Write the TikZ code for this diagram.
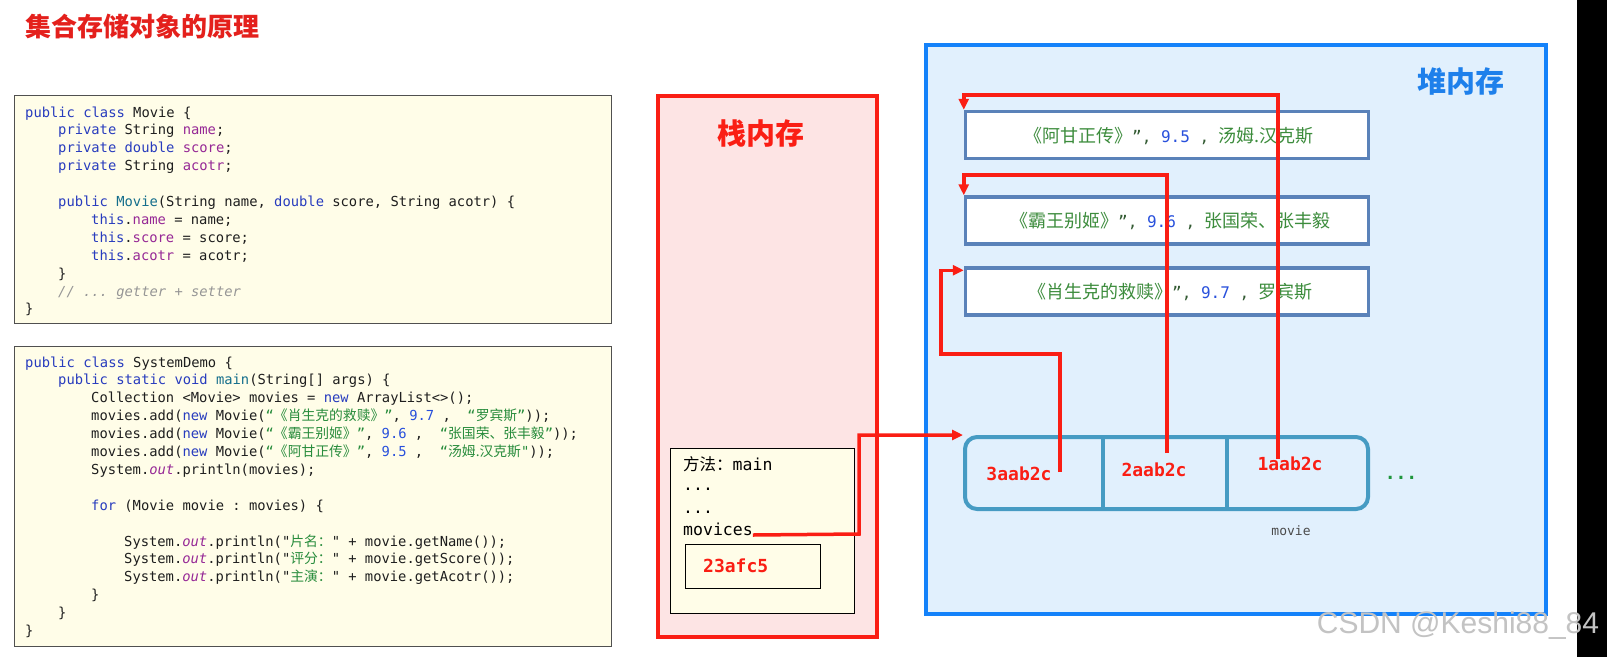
\documentclass[tikz,border=0pt]{standalone}
\usepackage{fontspec}
\setmainfont{Liberation Sans}
\setmonofont{DejaVu Sans Mono}
\newfontfamily\cjk{Noto Sans CJK SC}
\usetikzlibrary{arrows.meta}
\definecolor{kwblue}{RGB}{40,60,190}
\definecolor{fdpurple}{RGB}{150,40,150}
\definecolor{fnteal}{RGB}{20,110,140}
\definecolor{strgreen}{RGB}{40,140,60}
\definecolor{numblue}{RGB}{40,80,220}
\definecolor{cmgray}{RGB}{150,150,150}
\definecolor{codetxt}{RGB}{30,30,30}
\definecolor{codefill}{RGB}{255,253,232}
\definecolor{codeborder}{RGB}{80,80,80}
\definecolor{titlered}{RGB}{228,32,28}
\definecolor{arrred}{RGB}{250,30,20}
\definecolor{stackfill}{RGB}{253,228,228}
\definecolor{heapblue}{RGB}{20,130,250}
\definecolor{heapfill}{RGB}{225,240,253}
\definecolor{heaptext}{RGB}{30,128,235}
\definecolor{movborder}{RGB}{90,130,185}
\definecolor{movgreen}{RGB}{60,140,60}
\definecolor{movdark}{RGB}{50,90,50}
\definecolor{arrborder}{RGB}{70,155,195}
\definecolor{dotgreen}{RGB}{30,150,60}
\definecolor{wmgray}{RGB}{195,195,195}
\newcommand\ckw[1]{\textcolor{kwblue}{#1}}
\newcommand\cfd[1]{\textcolor{fdpurple}{#1}}
\newcommand\cfn[1]{\textcolor{fnteal}{#1}}
\newcommand\cst[1]{\textcolor{strgreen}{#1}}
\newcommand\cnm[1]{\textcolor{numblue}{#1}}
\newcommand\ccm[1]{\textcolor{cmgray}{\itshape #1}}
\newcommand\cit[1]{\textcolor{fdpurple}{\itshape #1}}
\newcommand\zh[1]{{\cjk #1}}
\newcommand\movline[3]{{\cjk #1}{\ttfamily\fontsize{16}{18}\selectfont\textcolor{movdark}{”,} \textcolor{numblue}{#2} \textcolor{movdark}{,} }{\cjk #3}}
\tikzset{
  cl/.style={anchor=base west, inner sep=0pt, text=codetxt, font=\fontsize{13.8}{16}\selectfont\ttfamily},
  codebox/.style={draw=codeborder, fill=codefill, line width=1.5pt, inner sep=0pt},
  redarr/.style={draw=arrred, line width=3.5pt, -{Triangle[length=11pt,width=10pt]}},
  movbox/.style={draw=movborder, fill=white, line width=3.5pt, minimum width=403pt, minimum height=47pt, inner sep=0pt},
  movtxt/.style={inner sep=0pt, text=movgreen, font=\fontsize{18}{20}\selectfont},
  addr/.style={inner sep=0pt, text=arrred, font=\fontsize{18}{20}\selectfont\ttfamily\bfseries},
  stk/.style={anchor=base west, inner sep=0pt, text=black, font=\fontsize{16.5}{18}\selectfont\ttfamily},
}
\begin{document}
\begin{tikzpicture}[x=1pt,y=-1pt]
\useasboundingbox (0,0) rectangle (1607,657);
\fill[white] (0,0) rectangle (1607,657);
\fill[black] (1577,0) rectangle (1607,657);

% title
\node[inner sep=0pt, text=titlered, font=\fontsize{26}{28}\selectfont\cjk\bfseries] (title) at (142,27) {集合存储对象的原理};

% code box 1
\node[codebox, minimum width=597pt, minimum height=228pt] (code1) at (313,209.5) {};
\node[cl] (a1) at (25,117) {\ckw{public class} Movie \{};
\node[cl] (a2) at (58,134.9) {\ckw{private} String \cfd{name};};
\node[cl] (a3) at (58,152.8) {\ckw{private double} \cfd{score};};
\node[cl] (a4) at (58,170.7) {\ckw{private} String \cfd{acotr};};
\node[cl] (a5) at (58,206.5) {\ckw{public} \cfn{Movie}(String name, \ckw{double} score, String acotr) \{};
\node[cl] (a6) at (91,224.4) {\ckw{this}.\cfd{name} = name;};
\node[cl] (a7) at (91,242.3) {\ckw{this}.\cfd{score} = score;};
\node[cl] (a8) at (91,260.2) {\ckw{this}.\cfd{acotr} = acotr;};
\node[cl] (a9) at (58,278.1) {\}};
\node[cl] (a10) at (58,296) {\ccm{// ... getter + setter}};
\node[cl] (a11) at (25,313.9) {\}};

% code box 2
\node[codebox, minimum width=597pt, minimum height=300pt] (code2) at (313,496.5) {};
\node[cl] (b1) at (25,367) {\ckw{public class} SystemDemo \{};
\node[cl] (b2) at (58,384.9) {\ckw{public static void} \cfn{main}(String[] args) \{};
\node[cl] (b3) at (91,402.8) {Collection <Movie> movies = \ckw{new} ArrayList<>();};
\node[cl] (b4) at (91,420.7) {movies.add(\ckw{new} Movie(\cst{“\zh{《肖生克的救赎》}”}, \cnm{9.7} , \ \cst{“\zh{罗宾斯}”}));};
\node[cl] (b5) at (91,438.6) {movies.add(\ckw{new} Movie(\cst{“\zh{《霸王别姬》}”}, \cnm{9.6} , \ \cst{“\zh{张国荣、张丰毅}”}));};
\node[cl] (b6) at (91,456.5) {movies.add(\ckw{new} Movie(\cst{“\zh{《阿甘正传》}”}, \cnm{9.5} , \ \cst{“\zh{汤姆.汉克斯}"}));};
\node[cl] (b7) at (91,474.4) {System.\cit{out}.println(movies);};
\node[cl] (b8) at (91,510.2) {\ckw{for} (Movie movie : movies) \{};
\node[cl] (b9) at (124,546) {System.\cit{out}.println("\cst{\zh{片名：}}" + movie.getName());};
\node[cl] (b10) at (124,563.9) {System.\cit{out}.println("\cst{\zh{评分：}}" + movie.getScore());};
\node[cl] (b11) at (124,581.8) {System.\cit{out}.println("\cst{\zh{主演：}}" + movie.getAcotr());};
\node[cl] (b12) at (91,599.7) {\}};
\node[cl] (b13) at (58,617.6) {\}};
\node[cl] (b14) at (25,635.5) {\}};

% stack
\node[draw=arrred, fill=stackfill, line width=4pt, minimum width=219pt, minimum height=541pt, inner sep=0pt] (stack) at (767.5,366.5) {};
\node[inner sep=0pt, text=arrred, font=\fontsize{29}{31}\selectfont\cjk\bfseries] (stacklab) at (761,133) {栈内存};
\node[draw=black, fill=codefill, line width=1.5pt, minimum width=184pt, minimum height=165pt, inner sep=0pt] (frame) at (762.5,531) {};
\node[stk] (fm1) at (683,470) {\zh{方法：}main};
\node[stk] (fm2) at (683,490) {...};
\node[stk] (fm3) at (683,513) {...};
\node[stk] (movices) at (683,535) {movices};
\node[draw=black, fill=codefill, line width=1.5pt, minimum width=135pt, minimum height=44pt, inner sep=0pt] (addrbox) at (753,566.5) {};
\node[addr, anchor=base west] (addrtxt) at (703,572) {23afc5};

% heap
\node[draw=heapblue, fill=heapfill, line width=4pt, minimum width=620pt, minimum height=569pt, inner sep=0pt] (heap) at (1236,329.5) {};
\node[inner sep=0pt, text=heaptext, font=\fontsize{29}{31}\selectfont\cjk\bfseries] (heaplab) at (1461,81) {堆内存};

\node[movbox] (mA) at (1167,135) {};
\node[movtxt, anchor=base west] (tA) at (1024,142) {\movline{《阿甘正传》}{9.5}{汤姆.汉克斯}};
\node[movbox] (mB) at (1167,220.5) {};
\node[movtxt, anchor=base west] (tB) at (1010,227.5) {\movline{《霸王别姬》}{9.6}{张国荣、张丰毅}};
\node[movbox] (mC) at (1167,291.5) {};
\node[movtxt, anchor=base west] (tC) at (1028,298.5) {\movline{《肖生克的救赎》}{9.7}{罗宾斯}};

% array
\node[draw=arrborder, fill=heapfill, line width=4pt, rounded corners=12pt, minimum width=403pt, minimum height=72pt, inner sep=0pt] (arr) at (1166.5,473) {};
\draw[draw=arrborder, line width=4pt] (1103,437) -- (1103,509);
\draw[draw=arrborder, line width=4pt] (1227,437) -- (1227,509);
\node[addr] (c3) at (1019,473.5) {3aab2c};
\node[addr] (c2) at (1154,469.5) {2aab2c};
\node[addr] (c1) at (1290,463.5) {1aab2c};
\node[inner sep=0pt, text=dotgreen, font=\fontsize{18}{20}\selectfont\ttfamily\bfseries] (dots) at (1401,478) {...};
\node[inner sep=0pt, text=codetxt!80, font=\fontsize{13}{15}\selectfont\ttfamily] (movlab) at (1291,531) {movie};

% connectors
\coordinate (p1) at (1278,459);
\coordinate (p2) at (1167,453);
\coordinate (p3) at (1060,472);
\draw[redarr] (p1) -- (1278,95) -| (mA.north west);
\draw[redarr] (p2) -- (1167,175) -| (mB.north west);
\draw[redarr] (p3) -- (1060,354) -| ([xshift=-23pt,yshift=-4pt]mC.north west) -- ([yshift=-4pt]mC.north west);
\draw[redarr] (movices.base east) -- (859,534) |- (arr.north west);

% watermark
\node[inner sep=0pt, text=wmgray, font=\fontsize{30}{32}\selectfont] (wm) at (1458,626) {CSDN @Keshi88\_84};
\end{tikzpicture}
\end{document}
